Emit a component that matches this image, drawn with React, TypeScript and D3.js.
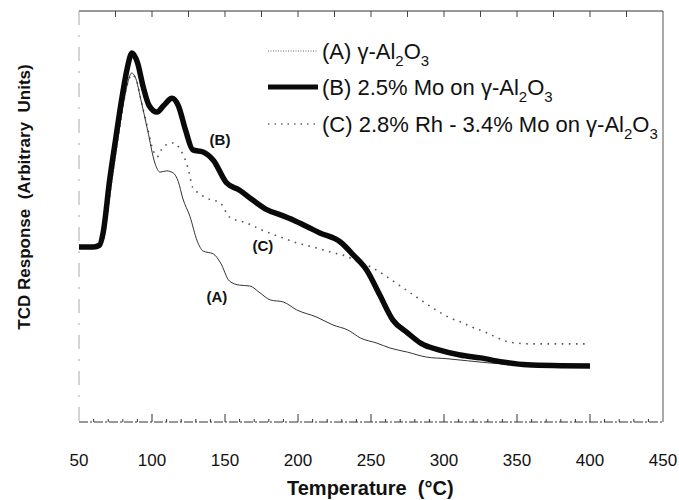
import React, { useEffect, useRef } from 'react';
import * as d3 from 'd3';

// temperature (°C) and TCD response (arbitrary units)
const tempA = [50, 58, 64, 67, 71, 75, 79.5, 83, 86, 89, 92, 97, 102, 105.5, 110, 114.5, 118, 121, 126, 131, 135, 142, 147, 153, 160, 167, 174, 181, 190, 199, 213, 224, 234, 243, 254, 263, 275, 288, 302, 316, 330, 345, 360, 380, 400];
const respA = [42.6, 42.6, 42.8, 45, 55, 65, 75.5, 82, 84.9, 83.5, 79, 71, 63, 60.8, 61.1, 60.6, 58.5, 54.5, 50, 44, 41.6, 40.9, 38.7, 34.3, 33.3, 33.1, 31.4, 29.7, 29.2, 27.3, 25.5, 23.6, 22.4, 20.4, 19.2, 18, 17, 15.8, 15.4, 14.9, 14.4, 14, 13.7, 13.5, 13.4];

const tempB = [50, 60, 64, 66.5, 71, 75, 79.5, 83, 86.3, 90, 94, 98, 103.4, 108, 113.7, 118, 123, 128, 135, 142, 151, 160, 169, 179, 188, 197, 207, 215, 229, 238, 247, 256, 265, 275, 284, 297, 311, 325, 340, 357, 380, 400];
const respB = [42.6, 42.6, 43, 46, 58.9, 68.6, 79.1, 86, 89.8, 87.5, 81.5, 77, 75.4, 77, 78.8, 77, 71, 66.2, 65.7, 63.7, 58.2, 56.4, 54, 51.6, 50.4, 49.1, 47.4, 46, 43.8, 40.6, 37, 30.9, 24.8, 21.7, 19.2, 17.5, 16.3, 15.6, 14.6, 13.9, 13.7, 13.6];

const tempC = [50, 58, 64, 67, 71, 75, 79.5, 83, 86, 89, 92, 97, 100, 103.5, 107.5, 114.5, 119.5, 124.5, 128, 132, 138, 147, 153, 165, 174, 188, 199, 210, 225, 231, 240, 251, 261, 272, 282, 292.5, 303, 313, 319, 328, 334, 344, 350, 360, 380, 400];
const respC = [42.6, 42.6, 42.8, 45, 55, 65, 75.5, 82, 84.5, 83.5, 79, 71.5, 67, 64.5, 66.9, 67.9, 66.2, 62, 57, 55.7, 54.4, 53.2, 49.9, 48.4, 46.9, 45, 43.6, 42.6, 41.1, 40.6, 39.2, 37.5, 35.3, 32.6, 30.2, 27.7, 25.5, 24.1, 23.1, 21.9, 20.9, 19.5, 19.2, 19, 19, 19];

const xTicks = [50, 100, 150, 200, 250, 300, 350, 400, 450];

// curve labels: [label, temperature, response]
const curveLabels: [string, number, number][] = [
    ['(B)', 146.6, 68.6],
    ['(C)', 176, 43],
    ['(A)', 144.5, 30.4],
];

const FONT = "'Liberation Sans', Arial, Helvetica, sans-serif";

export default function App() {
    const svgRef = useRef<SVGSVGElement>(null);

    const width = 679;
    const height = 500;
    const margin = { top: 11, right: 16, bottom: 78, left: 79 };
    const innerWidth = width - margin.left - margin.right;
    const innerHeight = height - margin.top - margin.bottom;

    useEffect(() => {
        const svg = d3.select(svgRef.current);
        svg.selectAll('*').remove();

        const xScale = d3.scaleLinear().domain([50, 450]).range([0, innerWidth]);
        const yScale = d3.scaleLinear().domain([0, 100]).range([innerHeight, 0]);

        const g = svg.append('g')
            .attr('transform', `translate(${margin.left}, ${margin.top})`);

        // frame
        g.append('line').attr('x1', 0).attr('x2', innerWidth).attr('y1', 0).attr('y2', 0)
            .attr('stroke', '#333').attr('stroke-width', 1);
        g.append('line').attr('x1', 0).attr('x2', innerWidth).attr('y1', innerHeight).attr('y2', innerHeight)
            .attr('stroke', '#333').attr('stroke-width', 1).attr('stroke-dasharray', '9,2,2,2');
        g.append('line').attr('x1', 0).attr('x2', 0).attr('y1', 0).attr('y2', innerHeight)
            .attr('stroke', '#aaa').attr('stroke-width', 1).attr('stroke-dasharray', '14,10,2,10');
        g.append('line').attr('x1', innerWidth).attr('x2', innerWidth).attr('y1', 0).attr('y2', innerHeight)
            .attr('stroke', '#555').attr('stroke-width', 1);

        // bottom ticks: minor every 10, major every 50
        const bottomTicks = d3.range(60, 450, 10);
        g.selectAll('.btick')
            .data(bottomTicks)
            .enter()
            .append('line')
            .attr('x1', d => xScale(d))
            .attr('x2', d => xScale(d))
            .attr('y1', innerHeight)
            .attr('y2', d => innerHeight - (d % 50 === 0 ? 8 : 3))
            .attr('stroke', '#333')
            .attr('stroke-width', 1);

        // top ticks
        g.selectAll('.ttick')
            .data(d3.range(75, 450, 25))
            .enter()
            .append('line')
            .attr('x1', d => xScale(d))
            .attr('x2', d => xScale(d))
            .attr('y1', 0)
            .attr('y2', 6)
            .attr('stroke', '#444')
            .attr('stroke-width', 1);

        // tick labels
        g.selectAll('.xlabel')
            .data(xTicks)
            .enter()
            .append('text')
            .attr('x', d => xScale(d))
            .attr('y', innerHeight + 44)
            .attr('text-anchor', 'middle')
            .attr('font-family', FONT)
            .attr('font-size', 17)
            .attr('fill', '#111')
            .text(d => d);

        // axis titles
        svg.append('text')
            .attr('x', 287)
            .attr('y', 495)
            .attr('font-family', FONT)
            .attr('font-weight', 'bold')
            .attr('font-size', 20)
            .attr('fill', '#111')
            .style('white-space', 'pre')
            .text('Temperature  (°C)');

        svg.append('text')
            .attr('transform', `translate(30, ${margin.top + 186}) rotate(-90)`)
            .attr('text-anchor', 'middle')
            .attr('font-family', FONT)
            .attr('font-weight', 'bold')
            .attr('font-size', 17)
            .attr('fill', '#111')
            .style('white-space', 'pre')
            .text('TCD Response  (Arbitrary  Units)');

        const line = d3.line<[number, number]>()
            .x(d => xScale(d[0]))
            .y(d => yScale(d[1]))
            .curve(d3.curveMonotoneX);

        const zip = (t: number[], r: number[]) => t.map((v, i) => [v, r[i]] as [number, number]);

        // C: sparse dotted
        g.append('path')
            .attr('d', line(zip(tempC, respC)))
            .attr('fill', 'none')
            .attr('stroke', '#555')
            .attr('stroke-width', 1.6)
            .attr('stroke-dasharray', '1.6,5.5');

        // A: thin line
        g.append('path')
            .attr('d', line(zip(tempA, respA)))
            .attr('fill', 'none')
            .attr('stroke', '#333')
            .attr('stroke-width', 1);

        // B: thick line
        g.append('path')
            .attr('d', line(zip(tempB, respB)))
            .attr('fill', 'none')
            .attr('stroke', '#0a0a0a')
            .attr('stroke-width', 5.5)
            .attr('stroke-linejoin', 'round');

        // curve labels
        g.selectAll('.clabel')
            .data(curveLabels)
            .enter()
            .append('text')
            .attr('x', d => xScale(d[1]))
            .attr('y', d => yScale(d[2]))
            .attr('dy', '0.35em')
            .attr('text-anchor', 'middle')
            .attr('font-family', FONT)
            .attr('font-weight', 'bold')
            .attr('font-size', 15)
            .attr('fill', '#111')
            .text(d => d[0]);

        // legend
        const legend = [
            { pre: '(A) γ-Al', mid: 'O', color: '#666', width: 1, dash: '1,1.5' },
            { pre: '(B) 2.5% Mo on γ-Al', mid: 'O', color: '#0a0a0a', width: 5, dash: null },
            { pre: '(C) 2.8% Rh - 3.4% Mo on γ-Al', mid: 'O', color: '#666', width: 1.5, dash: '1.5,5' },
        ];
        const legX = 268 - margin.left;
        const legY = [51, 87, 124].map(v => v - margin.top);

        const lg = g.selectAll('.leg')
            .data(legend)
            .enter()
            .append('g')
            .attr('transform', (d, i) => `translate(${legX}, ${legY[i]})`);

        lg.append('line')
            .attr('x1', 0).attr('x2', 50)
            .attr('y1', 0).attr('y2', 0)
            .attr('stroke', d => d.color)
            .attr('stroke-width', d => d.width)
            .attr('stroke-dasharray', d => d.dash);

        const lt = lg.append('text')
            .attr('x', 54)
            .attr('y', 8)
            .attr('font-family', FONT)
            .attr('font-size', 22)
            .attr('fill', '#111');
        lt.append('tspan').text(d => d.pre);
        lt.append('tspan').attr('dy', 7).attr('font-size', 15).text('2');
        lt.append('tspan').attr('dy', -7).text(d => d.mid);
        lt.append('tspan').attr('dy', 7).attr('font-size', 15).text('3');
    }, []);

    return (
        <svg ref={svgRef} width={width} height={height}
            style={{ position: 'absolute', left: 0, top: 0, background: '#fff' }} />
    );
}
